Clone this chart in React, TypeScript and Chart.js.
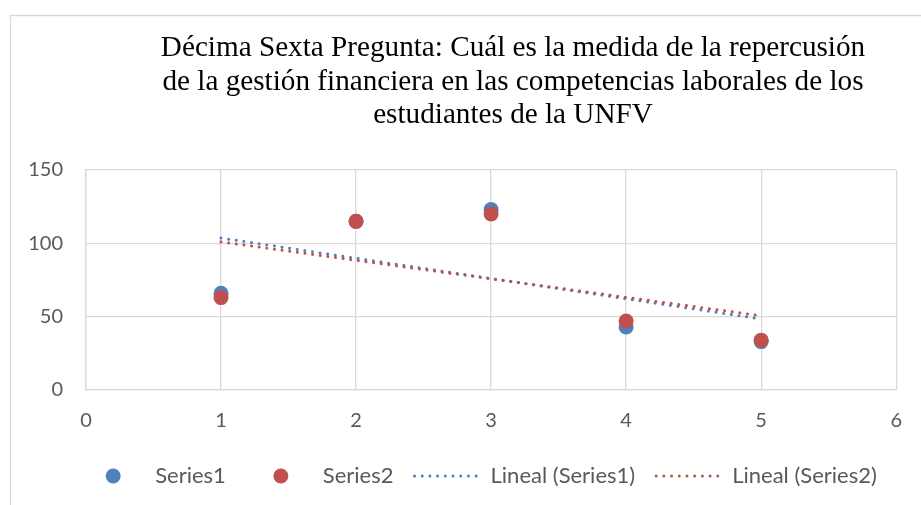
import React, { useEffect, useRef } from "react";
import { Chart, registerables } from "chart.js";

Chart.register(...registerables);

const titleLines = [
  "Décima Sexta Pregunta: Cuál es la medida de la repercusión",
  "de la gestión financiera en las competencias laborales de los",
  "estudiantes de la UNFV",
];
const xValues = [1, 2, 3, 4, 5];
const series1 = [66, 115, 123, 43, 33];
const series2 = [63, 115, 120, 47, 34];
const seriesNames = ["Series1", "Series2", "Lineal (Series1)", "Lineal (Series2)"];
const xTickRange = [0, 6];
const yTickRange = [0, 150];
const yStep = 50;

const BLUE = "#4F81BD";
const RED = "#C0504D";
const GRID = "#D9D9D9";
const TEXT = "#595959";
const SANS = "Lato, 'Open Sans', sans-serif";
const SERIF = "'Liberation Serif', 'Times New Roman', serif";

function linearFit(xs: number[], ys: number[]) {
  const n = xs.length;
  const mx = xs.reduce((a, b) => a + b, 0) / n;
  const my = ys.reduce((a, b) => a + b, 0) / n;
  let num = 0;
  let den = 0;
  for (let i = 0; i < n; i++) {
    num += (xs[i] - mx) * (ys[i] - my);
    den += (xs[i] - mx) * (xs[i] - mx);
  }
  const slope = num / den;
  const icpt = my - slope * mx;
  const x0 = Math.min(...xs);
  const x1 = Math.max(...xs);
  return [
    { x: x0, y: icpt + slope * x0 },
    { x: x1, y: icpt + slope * x1 },
  ];
}

const DOT_DASH = [0.001, 7.7];

const decorPlugin = {
  id: "decor",
  beforeDraw(chart: any) {
    const ctx = chart.ctx;
    ctx.save();
    ctx.fillStyle = "#ffffff";
    ctx.fillRect(0, 0, chart.width, chart.height);
    ctx.strokeStyle = GRID;
    ctx.lineWidth = 1.3;
    ctx.beginPath();
    ctx.moveTo(10.5, chart.height + 2);
    ctx.lineTo(10.5, 15.5);
    ctx.lineTo(chart.width + 2, 15.5);
    ctx.stroke();
    ctx.restore();
  },
  afterDraw(chart: any) {
    const ctx = chart.ctx;
    ctx.save();
    // Title
    ctx.fillStyle = "#000000";
    ctx.font = `29.2px ${SERIF}`;
    ctx.textAlign = "center";
    ctx.textBaseline = "alphabetic";
    const baselines = [56, 90, 123];
    titleLines.forEach((t, i) => ctx.fillText(t, 513, baselines[i]));

    // Legend
    ctx.font = `22px ${SANS}`;
    ctx.textAlign = "left";
    ctx.textBaseline = "middle";
    const ds = chart.data.datasets;
    const symW = 66;
    const textOff = 76;
    const gap = 21;
    const widths = seriesNames.map((n) => ctx.measureText(n).width);
    const total = widths.reduce((a, w) => a + textOff + w, 0) + gap * (seriesNames.length - 1);
    let s = 478 - total / 2;
    const ly = 476;
    seriesNames.forEach((name, i) => {
      const d = ds[i];
      if (i < 2) {
        ctx.fillStyle = d.backgroundColor;
        ctx.beginPath();
        ctx.arc(s + 34, ly, 7.5, 0, Math.PI * 2);
        ctx.fill();
      } else {
        ctx.strokeStyle = d.borderColor;
        ctx.lineWidth = 3;
        ctx.lineCap = "round";
        ctx.setLineDash(DOT_DASH);
        ctx.beginPath();
        ctx.moveTo(s, ly);
        ctx.lineTo(s + symW - 1, ly);
        ctx.stroke();
        ctx.setLineDash([]);
      }
      ctx.fillStyle = TEXT;
      ctx.fillText(name, s + textOff, ly);
      s += textOff + widths[i] + gap;
    });
    ctx.restore();
  },
};

export default function App() {
  const ref = useRef<HTMLCanvasElement>(null);
  useEffect(() => {
    if (!ref.current) return;
    const toPts = (ys: number[]) => xValues.map((x, i) => ({ x, y: ys[i] }));
    const chart = new Chart(ref.current, {
      type: "scatter",
      data: {
        datasets: [
          {
            label: seriesNames[0],
            data: toPts(series1),
            backgroundColor: BLUE,
            borderColor: BLUE,
            borderWidth: 0,
            pointRadius: 7.5,
            pointHoverRadius: 7.5,
            order: 3,
          },
          {
            label: seriesNames[1],
            data: toPts(series2),
            backgroundColor: RED,
            borderColor: RED,
            borderWidth: 0,
            pointRadius: 7.5,
            pointHoverRadius: 7.5,
            order: 2,
          },
          {
            type: "line",
            label: seriesNames[2],
            data: linearFit(xValues, series1),
            borderColor: BLUE,
            backgroundColor: BLUE,
            borderWidth: 3,
            borderDash: DOT_DASH,
            borderCapStyle: "round",
            pointRadius: 0,
            showLine: true,
            fill: false,
            order: 1,
          },
          {
            type: "line",
            label: seriesNames[3],
            data: linearFit(xValues, series2),
            borderColor: RED,
            backgroundColor: RED,
            borderWidth: 3,
            borderDash: DOT_DASH,
            borderCapStyle: "round",
            pointRadius: 0,
            showLine: true,
            fill: false,
            order: 0,
          },
        ] as any,
      },
      options: {
        responsive: false,
        animation: false,
        devicePixelRatio: 1,
        layout: { padding: { left: 0, top: 170, right: 22, bottom: 65 } },
        plugins: {
          legend: { display: false },
          title: { display: false },
          tooltip: { enabled: false },
        },
        scales: {
          x: {
            type: "linear",
            min: xTickRange[0],
            max: xTickRange[1],
            ticks: {
              stepSize: 1,
              padding: 19,
              color: TEXT,
              font: { size: 20, family: SANS },
            },
            grid: { color: GRID, drawTicks: false, lineWidth: 1.3 },
            border: { color: GRID, width: 1.3 },
            afterFit: (s: any) => {
              s.height = 50;
            },
          },
          y: {
            type: "linear",
            min: yTickRange[0],
            max: yTickRange[1],
            ticks: {
              stepSize: yStep,
              padding: 23,
              color: TEXT,
              font: { size: 20, family: SANS },
            },
            grid: { color: GRID, drawTicks: false, lineWidth: 1.3 },
            border: { color: GRID, width: 1.3 },
            afterFit: (s: any) => {
              s.width = 86;
            },
          },
        },
      } as any,
      plugins: [decorPlugin],
    });
    return () => chart.destroy();
  }, []);
  return (
    <div style={{ position: "absolute", left: 0, top: 0, width: 921, height: 505, background: "#fff" }}>
      <canvas ref={ref} width={921} height={505} style={{ display: "block" }} />
    </div>
  );
}
